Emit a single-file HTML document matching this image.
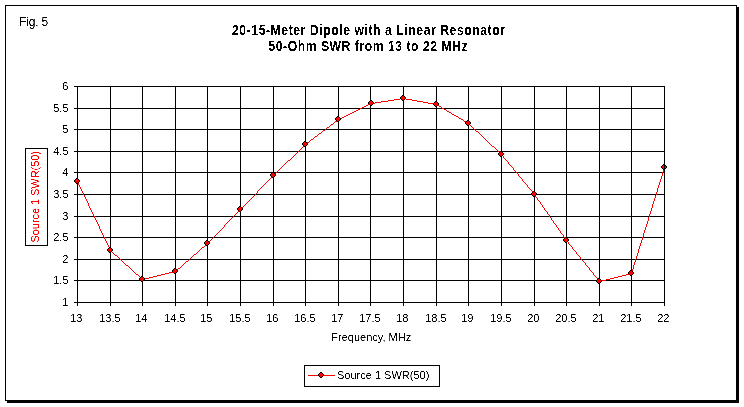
<!DOCTYPE html>
<html><head><meta charset="utf-8"><style>
html,body{margin:0;padding:0;background:#fff;}
body{width:744px;height:407px;overflow:hidden;position:relative;}
svg{position:absolute;left:0;top:0;}
text{font-family:"Liberation Sans",sans-serif;}
svg{will-change:transform;}
</style></head><body>
<svg width="744" height="407" viewBox="0 0 744 407">
<defs><filter id="th" x="0" y="0" width="100%" height="100%" filterUnits="userSpaceOnUse"><feComponentTransfer><feFuncA type="table" tableValues="0 0 1 1"/></feComponentTransfer></filter><filter id="tb" x="0" y="0" width="100%" height="100%" filterUnits="userSpaceOnUse"><feComponentTransfer><feFuncA type="discrete" tableValues="0 1"/></feComponentTransfer></filter></defs>

<rect x="7" y="401" width="732" height="2" fill="#000"/>
<rect x="737" y="7" width="2" height="396" fill="#000"/>
<rect x="5.5" y="5.5" width="731" height="395" fill="#fff" stroke="#000" stroke-width="1"/>
<g stroke="#000" stroke-width="1" shape-rendering="crispEdges">
<line x1="77.5" y1="86" x2="77.5" y2="306"/>
<line x1="110.5" y1="86" x2="110.5" y2="306"/>
<line x1="142.5" y1="86" x2="142.5" y2="306"/>
<line x1="175.5" y1="86" x2="175.5" y2="306"/>
<line x1="207.5" y1="86" x2="207.5" y2="306"/>
<line x1="240.5" y1="86" x2="240.5" y2="306"/>
<line x1="273.5" y1="86" x2="273.5" y2="306"/>
<line x1="305.5" y1="86" x2="305.5" y2="306"/>
<line x1="338.5" y1="86" x2="338.5" y2="306"/>
<line x1="370.5" y1="86" x2="370.5" y2="306"/>
<line x1="403.5" y1="86" x2="403.5" y2="306"/>
<line x1="436.5" y1="86" x2="436.5" y2="306"/>
<line x1="468.5" y1="86" x2="468.5" y2="306"/>
<line x1="501.5" y1="86" x2="501.5" y2="306"/>
<line x1="534.5" y1="86" x2="534.5" y2="306"/>
<line x1="566.5" y1="86" x2="566.5" y2="306"/>
<line x1="599.5" y1="86" x2="599.5" y2="306"/>
<line x1="631.5" y1="86" x2="631.5" y2="306"/>
<line x1="664.5" y1="86" x2="664.5" y2="306"/>
<line x1="74" y1="86.5" x2="665" y2="86.5"/>
<line x1="74" y1="108.5" x2="665" y2="108.5"/>
<line x1="74" y1="129.5" x2="665" y2="129.5"/>
<line x1="74" y1="151.5" x2="665" y2="151.5"/>
<line x1="74" y1="172.5" x2="665" y2="172.5"/>
<line x1="74" y1="194.5" x2="665" y2="194.5"/>
<line x1="74" y1="216.5" x2="665" y2="216.5"/>
<line x1="74" y1="237.5" x2="665" y2="237.5"/>
<line x1="74" y1="259.5" x2="665" y2="259.5"/>
<line x1="74" y1="280.5" x2="665" y2="280.5"/>
<line x1="74" y1="302.5" x2="665" y2="302.5"/>
</g>
<path d="M400 98h6v1h-6zM394 99h6v1h-6zM406 99h6v1h-6zM388 100h6v1h-6zM412 100h5v1h-5zM381 101h7v1h-7zM417 101h6v1h-6zM375 102h6v1h-6zM423 102h5v1h-5zM370 103h5v1h-5zM428 103h6v1h-6zM368 104h2v1h-2zM434 104h3v1h-3zM366 105h2v1h-2zM437 105h2v1h-2zM364 106h2v1h-2zM439 106h2v1h-2zM362 107h2v1h-2zM441 107h1v1h-1zM360 108h2v1h-2zM442 108h2v1h-2zM358 109h2v1h-2zM444 109h2v1h-2zM356 110h2v1h-2zM446 110h1v1h-1zM354 111h2v1h-2zM447 111h2v1h-2zM352 112h2v1h-2zM449 112h2v1h-2zM350 113h2v1h-2zM451 113h1v1h-1zM348 114h2v1h-2zM452 114h2v1h-2zM346 115h2v1h-2zM454 115h2v1h-2zM344 116h2v1h-2zM456 116h2v1h-2zM342 117h2v1h-2zM458 117h1v1h-1zM340 118h2v1h-2zM459 118h2v1h-2zM338 119h2v1h-2zM461 119h2v1h-2zM337 120h1v1h-1zM463 120h1v1h-1zM335 121h2v1h-2zM464 121h2v1h-2zM334 122h1v1h-1zM466 122h2v1h-2zM333 123h1v1h-1zM468 123h1v1h-1zM331 124h2v1h-2zM469 124h1v1h-1zM330 125h1v1h-1zM470 125h1v1h-1zM329 126h1v1h-1zM471 126h1v1h-1zM327 127h2v1h-2zM472 127h1v1h-1zM326 128h1v1h-1zM473 128h1v1h-1zM325 129h1v1h-1zM474 129h1v1h-1zM323 130h2v1h-2zM475 130h1v1h-1zM322 131h1v1h-1zM476 131h2v1h-2zM321 132h1v1h-1zM478 132h1v1h-1zM319 133h2v1h-2zM479 133h1v1h-1zM318 134h1v1h-1zM480 134h1v1h-1zM317 135h1v1h-1zM481 135h1v1h-1zM315 136h2v1h-2zM482 136h1v1h-1zM314 137h1v1h-1zM483 137h1v1h-1zM313 138h1v1h-1zM484 138h1v1h-1zM311 139h2v1h-2zM485 139h1v1h-1zM310 140h1v1h-1zM486 140h1v1h-1zM309 141h1v1h-1zM487 141h1v1h-1zM307 142h2v1h-2zM488 142h1v1h-1zM306 143h1v1h-1zM489 143h1v1h-1zM305 144h1v1h-1zM490 144h1v1h-1zM304 145h1v1h-1zM491 145h1v1h-1zM303 146h1v1h-1zM492 146h2v1h-2zM302 147h1v1h-1zM494 147h1v1h-1zM301 148h1v1h-1zM495 148h1v1h-1zM300 149h1v1h-1zM496 149h1v1h-1zM299 150h1v1h-1zM497 150h1v1h-1zM298 151h1v1h-1zM498 151h1v1h-1zM297 152h1v1h-1zM499 152h1v1h-1zM296 153h1v1h-1zM500 153h1v1h-1zM295 154h1v1h-1zM501 154h1v1h-1zM294 155h1v1h-1zM502 155h1v1h-1zM293 156h1v1h-1zM503 156h1v1h-1zM292 157h1v1h-1zM503 157h1v1h-1zM291 158h1v1h-1zM504 158h1v1h-1zM290 159h1v1h-1zM505 159h1v1h-1zM288 160h2v1h-2zM506 160h1v1h-1zM287 161h1v1h-1zM507 161h1v1h-1zM286 162h1v1h-1zM508 162h1v1h-1zM285 163h1v1h-1zM508 163h1v1h-1zM284 164h1v1h-1zM509 164h1v1h-1zM283 165h1v1h-1zM510 165h1v1h-1zM282 166h1v1h-1zM511 166h1v1h-1zM281 167h1v1h-1zM512 167h1v1h-1zM664 167h1v1h-1zM280 168h1v1h-1zM513 168h1v1h-1zM664 168h1v1h-1zM279 169h1v1h-1zM513 169h1v1h-1zM663 169h1v1h-1zM278 170h1v1h-1zM514 170h1v1h-1zM663 170h1v1h-1zM277 171h1v1h-1zM515 171h1v1h-1zM663 171h1v1h-1zM276 172h1v1h-1zM516 172h1v1h-1zM662 172h1v1h-1zM275 173h1v1h-1zM517 173h1v1h-1zM662 173h1v1h-1zM274 174h1v1h-1zM518 174h1v1h-1zM662 174h1v1h-1zM273 175h1v1h-1zM518 175h1v1h-1zM662 175h1v1h-1zM272 176h1v1h-1zM519 176h1v1h-1zM661 176h1v1h-1zM271 177h1v1h-1zM520 177h1v1h-1zM661 177h1v1h-1zM270 178h1v1h-1zM521 178h1v1h-1zM661 178h1v1h-1zM269 179h1v1h-1zM522 179h1v1h-1zM660 179h1v1h-1zM268 180h1v1h-1zM522 180h1v1h-1zM660 180h1v1h-1zM77 181h1v1h-1zM267 181h1v1h-1zM523 181h1v1h-1zM660 181h1v1h-1zM77 182h1v1h-1zM266 182h1v1h-1zM524 182h1v1h-1zM659 182h1v1h-1zM78 183h1v1h-1zM265 183h1v1h-1zM525 183h1v1h-1zM659 183h1v1h-1zM78 184h1v1h-1zM264 184h1v1h-1zM526 184h1v1h-1zM659 184h1v1h-1zM79 185h1v1h-1zM263 185h1v1h-1zM527 185h1v1h-1zM658 185h1v1h-1zM79 186h1v1h-1zM262 186h1v1h-1zM527 186h1v1h-1zM658 186h1v1h-1zM80 187h1v1h-1zM261 187h1v1h-1zM528 187h1v1h-1zM658 187h1v1h-1zM80 188h1v1h-1zM260 188h1v1h-1zM529 188h1v1h-1zM657 188h1v1h-1zM81 189h1v1h-1zM259 189h1v1h-1zM530 189h1v1h-1zM657 189h1v1h-1zM81 190h1v1h-1zM258 190h1v1h-1zM531 190h1v1h-1zM657 190h1v1h-1zM82 191h1v1h-1zM257 191h1v1h-1zM532 191h1v1h-1zM657 191h1v1h-1zM82 192h1v1h-1zM257 192h1v1h-1zM532 192h1v1h-1zM656 192h1v1h-1zM83 193h1v1h-1zM256 193h1v1h-1zM533 193h1v1h-1zM656 193h1v1h-1zM83 194h1v1h-1zM255 194h1v1h-1zM534 194h1v1h-1zM656 194h1v1h-1zM84 195h1v1h-1zM254 195h1v1h-1zM535 195h1v1h-1zM655 195h1v1h-1zM84 196h1v1h-1zM253 196h1v1h-1zM535 196h1v1h-1zM655 196h1v1h-1zM85 197h1v1h-1zM252 197h1v1h-1zM536 197h1v1h-1zM655 197h1v1h-1zM85 198h1v1h-1zM251 198h1v1h-1zM537 198h1v1h-1zM654 198h1v1h-1zM86 199h1v1h-1zM250 199h1v1h-1zM537 199h1v1h-1zM654 199h1v1h-1zM86 200h1v1h-1zM249 200h1v1h-1zM538 200h1v1h-1zM654 200h1v1h-1zM87 201h1v1h-1zM248 201h1v1h-1zM539 201h1v1h-1zM653 201h1v1h-1zM87 202h1v1h-1zM247 202h1v1h-1zM540 202h1v1h-1zM653 202h1v1h-1zM88 203h1v1h-1zM246 203h1v1h-1zM540 203h1v1h-1zM653 203h1v1h-1zM88 204h1v1h-1zM245 204h1v1h-1zM541 204h1v1h-1zM652 204h1v1h-1zM88 205h1v1h-1zM244 205h1v1h-1zM542 205h1v1h-1zM652 205h1v1h-1zM89 206h1v1h-1zM243 206h1v1h-1zM542 206h1v1h-1zM652 206h1v1h-1zM89 207h1v1h-1zM242 207h1v1h-1zM543 207h1v1h-1zM652 207h1v1h-1zM90 208h1v1h-1zM241 208h1v1h-1zM544 208h1v1h-1zM651 208h1v1h-1zM90 209h1v1h-1zM240 209h1v1h-1zM544 209h1v1h-1zM651 209h1v1h-1zM91 210h1v1h-1zM239 210h1v1h-1zM545 210h1v1h-1zM651 210h1v1h-1zM91 211h1v1h-1zM238 211h1v1h-1zM546 211h1v1h-1zM650 211h1v1h-1zM92 212h1v1h-1zM237 212h1v1h-1zM547 212h1v1h-1zM650 212h1v1h-1zM92 213h1v1h-1zM236 213h1v1h-1zM547 213h1v1h-1zM650 213h1v1h-1zM93 214h1v1h-1zM235 214h1v1h-1zM548 214h1v1h-1zM649 214h1v1h-1zM93 215h1v1h-1zM234 215h1v1h-1zM549 215h1v1h-1zM649 215h1v1h-1zM94 216h1v1h-1zM233 216h1v1h-1zM549 216h1v1h-1zM649 216h1v1h-1zM94 217h1v1h-1zM232 217h1v1h-1zM550 217h1v1h-1zM648 217h1v1h-1zM95 218h1v1h-1zM231 218h1v1h-1zM551 218h1v1h-1zM648 218h1v1h-1zM95 219h1v1h-1zM230 219h1v1h-1zM551 219h1v1h-1zM648 219h1v1h-1zM96 220h1v1h-1zM229 220h1v1h-1zM552 220h1v1h-1zM648 220h1v1h-1zM96 221h1v1h-1zM228 221h1v1h-1zM553 221h1v1h-1zM647 221h1v1h-1zM97 222h1v1h-1zM227 222h1v1h-1zM553 222h1v1h-1zM647 222h1v1h-1zM97 223h1v1h-1zM226 223h1v1h-1zM554 223h1v1h-1zM647 223h1v1h-1zM98 224h1v1h-1zM225 224h1v1h-1zM555 224h1v1h-1zM646 224h1v1h-1zM98 225h1v1h-1zM224 225h1v1h-1zM556 225h1v1h-1zM646 225h1v1h-1zM99 226h1v1h-1zM224 226h1v1h-1zM556 226h1v1h-1zM646 226h1v1h-1zM99 227h1v1h-1zM223 227h1v1h-1zM557 227h1v1h-1zM645 227h1v1h-1zM99 228h1v1h-1zM222 228h1v1h-1zM558 228h1v1h-1zM645 228h1v1h-1zM100 229h1v1h-1zM221 229h1v1h-1zM558 229h1v1h-1zM645 229h1v1h-1zM100 230h1v1h-1zM220 230h1v1h-1zM559 230h1v1h-1zM644 230h1v1h-1zM101 231h1v1h-1zM219 231h1v1h-1zM560 231h1v1h-1zM644 231h1v1h-1zM101 232h1v1h-1zM218 232h1v1h-1zM560 232h1v1h-1zM644 232h1v1h-1zM102 233h1v1h-1zM217 233h1v1h-1zM561 233h1v1h-1zM643 233h1v1h-1zM102 234h1v1h-1zM216 234h1v1h-1zM562 234h1v1h-1zM643 234h1v1h-1zM103 235h1v1h-1zM215 235h1v1h-1zM563 235h1v1h-1zM643 235h1v1h-1zM103 236h1v1h-1zM214 236h1v1h-1zM563 236h1v1h-1zM643 236h1v1h-1zM104 237h1v1h-1zM213 237h1v1h-1zM564 237h1v1h-1zM642 237h1v1h-1zM104 238h1v1h-1zM212 238h1v1h-1zM565 238h1v1h-1zM642 238h1v1h-1zM105 239h1v1h-1zM211 239h1v1h-1zM565 239h1v1h-1zM642 239h1v1h-1zM105 240h1v1h-1zM210 240h1v1h-1zM566 240h1v1h-1zM641 240h1v1h-1zM106 241h1v1h-1zM209 241h1v1h-1zM567 241h1v1h-1zM641 241h1v1h-1zM106 242h1v1h-1zM208 242h1v1h-1zM568 242h1v1h-1zM641 242h1v1h-1zM107 243h1v1h-1zM207 243h1v1h-1zM568 243h1v1h-1zM640 243h1v1h-1zM107 244h1v1h-1zM206 244h1v1h-1zM569 244h1v1h-1zM640 244h1v1h-1zM108 245h1v1h-1zM205 245h1v1h-1zM570 245h1v1h-1zM640 245h1v1h-1zM108 246h1v1h-1zM204 246h1v1h-1zM571 246h1v1h-1zM639 246h1v1h-1zM109 247h1v1h-1zM202 247h2v1h-2zM572 247h1v1h-1zM639 247h1v1h-1zM109 248h1v1h-1zM201 248h1v1h-1zM572 248h1v1h-1zM639 248h1v1h-1zM110 249h1v1h-1zM200 249h1v1h-1zM573 249h1v1h-1zM638 249h1v1h-1zM110 250h1v1h-1zM199 250h1v1h-1zM574 250h1v1h-1zM638 250h1v1h-1zM111 251h1v1h-1zM198 251h1v1h-1zM575 251h1v1h-1zM638 251h1v1h-1zM112 252h1v1h-1zM197 252h1v1h-1zM576 252h1v1h-1zM638 252h1v1h-1zM113 253h1v1h-1zM196 253h1v1h-1zM576 253h1v1h-1zM637 253h1v1h-1zM114 254h1v1h-1zM194 254h2v1h-2zM577 254h1v1h-1zM637 254h1v1h-1zM115 255h2v1h-2zM193 255h1v1h-1zM578 255h1v1h-1zM637 255h1v1h-1zM117 256h1v1h-1zM192 256h1v1h-1zM579 256h1v1h-1zM636 256h1v1h-1zM118 257h1v1h-1zM191 257h1v1h-1zM580 257h1v1h-1zM636 257h1v1h-1zM119 258h1v1h-1zM190 258h1v1h-1zM580 258h1v1h-1zM636 258h1v1h-1zM120 259h1v1h-1zM189 259h1v1h-1zM581 259h1v1h-1zM635 259h1v1h-1zM121 260h1v1h-1zM188 260h1v1h-1zM582 260h1v1h-1zM635 260h1v1h-1zM122 261h1v1h-1zM186 261h2v1h-2zM583 261h1v1h-1zM635 261h1v1h-1zM123 262h1v1h-1zM185 262h1v1h-1zM584 262h1v1h-1zM634 262h1v1h-1zM124 263h1v1h-1zM184 263h1v1h-1zM585 263h1v1h-1zM634 263h1v1h-1zM125 264h1v1h-1zM183 264h1v1h-1zM585 264h1v1h-1zM634 264h1v1h-1zM126 265h2v1h-2zM182 265h1v1h-1zM586 265h1v1h-1zM633 265h1v1h-1zM128 266h1v1h-1zM181 266h1v1h-1zM587 266h1v1h-1zM633 266h1v1h-1zM129 267h1v1h-1zM180 267h1v1h-1zM588 267h1v1h-1zM633 267h1v1h-1zM130 268h1v1h-1zM178 268h2v1h-2zM589 268h1v1h-1zM633 268h1v1h-1zM131 269h1v1h-1zM177 269h1v1h-1zM589 269h1v1h-1zM632 269h1v1h-1zM132 270h1v1h-1zM176 270h1v1h-1zM590 270h1v1h-1zM632 270h1v1h-1zM133 271h1v1h-1zM173 271h3v1h-3zM591 271h1v1h-1zM632 271h1v1h-1zM134 272h1v1h-1zM169 272h4v1h-4zM592 272h1v1h-1zM631 272h1v1h-1zM135 273h1v1h-1zM165 273h4v1h-4zM593 273h1v1h-1zM630 273h2v1h-2zM136 274h2v1h-2zM161 274h4v1h-4zM593 274h1v1h-1zM626 274h4v1h-4zM138 275h1v1h-1zM157 275h4v1h-4zM594 275h1v1h-1zM622 275h4v1h-4zM139 276h1v1h-1zM153 276h4v1h-4zM595 276h1v1h-1zM618 276h4v1h-4zM140 277h1v1h-1zM149 277h4v1h-4zM596 277h1v1h-1zM614 277h4v1h-4zM141 278h1v1h-1zM145 278h4v1h-4zM597 278h1v1h-1zM610 278h4v1h-4zM142 279h3v1h-3zM597 279h1v1h-1zM606 279h4v1h-4zM598 280h1v1h-1zM602 280h4v1h-4zM599 281h3v1h-3z" fill="#f00" shape-rendering="crispEdges"/>
<g shape-rendering="crispEdges">
<rect x="76" y="178" width="2" height="1" fill="#000"/><rect x="75" y="179" width="1" height="1" fill="#000"/><rect x="78" y="179" width="1" height="1" fill="#000"/><rect x="74" y="180" width="1" height="2" fill="#000"/><rect x="79" y="180" width="1" height="2" fill="#000"/><rect x="75" y="182" width="1" height="1" fill="#000"/><rect x="78" y="182" width="1" height="1" fill="#000"/><rect x="76" y="183" width="2" height="1" fill="#000"/><rect x="76" y="179" width="2" height="1" fill="#f00"/><rect x="75" y="180" width="4" height="2" fill="#f00"/><rect x="76" y="182" width="2" height="1" fill="#f00"/>
<rect x="109" y="247" width="2" height="1" fill="#000"/><rect x="108" y="248" width="1" height="1" fill="#000"/><rect x="111" y="248" width="1" height="1" fill="#000"/><rect x="107" y="249" width="1" height="2" fill="#000"/><rect x="112" y="249" width="1" height="2" fill="#000"/><rect x="108" y="251" width="1" height="1" fill="#000"/><rect x="111" y="251" width="1" height="1" fill="#000"/><rect x="109" y="252" width="2" height="1" fill="#000"/><rect x="109" y="248" width="2" height="1" fill="#f00"/><rect x="108" y="249" width="4" height="2" fill="#f00"/><rect x="109" y="251" width="2" height="1" fill="#f00"/>
<rect x="141" y="276" width="2" height="1" fill="#000"/><rect x="140" y="277" width="1" height="1" fill="#000"/><rect x="143" y="277" width="1" height="1" fill="#000"/><rect x="139" y="278" width="1" height="2" fill="#000"/><rect x="144" y="278" width="1" height="2" fill="#000"/><rect x="140" y="280" width="1" height="1" fill="#000"/><rect x="143" y="280" width="1" height="1" fill="#000"/><rect x="141" y="281" width="2" height="1" fill="#000"/><rect x="141" y="277" width="2" height="1" fill="#f00"/><rect x="140" y="278" width="4" height="2" fill="#f00"/><rect x="141" y="280" width="2" height="1" fill="#f00"/>
<rect x="174" y="268" width="2" height="1" fill="#000"/><rect x="173" y="269" width="1" height="1" fill="#000"/><rect x="176" y="269" width="1" height="1" fill="#000"/><rect x="172" y="270" width="1" height="2" fill="#000"/><rect x="177" y="270" width="1" height="2" fill="#000"/><rect x="173" y="272" width="1" height="1" fill="#000"/><rect x="176" y="272" width="1" height="1" fill="#000"/><rect x="174" y="273" width="2" height="1" fill="#000"/><rect x="174" y="269" width="2" height="1" fill="#f00"/><rect x="173" y="270" width="4" height="2" fill="#f00"/><rect x="174" y="272" width="2" height="1" fill="#f00"/>
<rect x="206" y="240" width="2" height="1" fill="#000"/><rect x="205" y="241" width="1" height="1" fill="#000"/><rect x="208" y="241" width="1" height="1" fill="#000"/><rect x="204" y="242" width="1" height="2" fill="#000"/><rect x="209" y="242" width="1" height="2" fill="#000"/><rect x="205" y="244" width="1" height="1" fill="#000"/><rect x="208" y="244" width="1" height="1" fill="#000"/><rect x="206" y="245" width="2" height="1" fill="#000"/><rect x="206" y="241" width="2" height="1" fill="#f00"/><rect x="205" y="242" width="4" height="2" fill="#f00"/><rect x="206" y="244" width="2" height="1" fill="#f00"/>
<rect x="239" y="206" width="2" height="1" fill="#000"/><rect x="238" y="207" width="1" height="1" fill="#000"/><rect x="241" y="207" width="1" height="1" fill="#000"/><rect x="237" y="208" width="1" height="2" fill="#000"/><rect x="242" y="208" width="1" height="2" fill="#000"/><rect x="238" y="210" width="1" height="1" fill="#000"/><rect x="241" y="210" width="1" height="1" fill="#000"/><rect x="239" y="211" width="2" height="1" fill="#000"/><rect x="239" y="207" width="2" height="1" fill="#f00"/><rect x="238" y="208" width="4" height="2" fill="#f00"/><rect x="239" y="210" width="2" height="1" fill="#f00"/>
<rect x="272" y="172" width="2" height="1" fill="#000"/><rect x="271" y="173" width="1" height="1" fill="#000"/><rect x="274" y="173" width="1" height="1" fill="#000"/><rect x="270" y="174" width="1" height="2" fill="#000"/><rect x="275" y="174" width="1" height="2" fill="#000"/><rect x="271" y="176" width="1" height="1" fill="#000"/><rect x="274" y="176" width="1" height="1" fill="#000"/><rect x="272" y="177" width="2" height="1" fill="#000"/><rect x="272" y="173" width="2" height="1" fill="#f00"/><rect x="271" y="174" width="4" height="2" fill="#f00"/><rect x="272" y="176" width="2" height="1" fill="#f00"/>
<rect x="304" y="141" width="2" height="1" fill="#000"/><rect x="303" y="142" width="1" height="1" fill="#000"/><rect x="306" y="142" width="1" height="1" fill="#000"/><rect x="302" y="143" width="1" height="2" fill="#000"/><rect x="307" y="143" width="1" height="2" fill="#000"/><rect x="303" y="145" width="1" height="1" fill="#000"/><rect x="306" y="145" width="1" height="1" fill="#000"/><rect x="304" y="146" width="2" height="1" fill="#000"/><rect x="304" y="142" width="2" height="1" fill="#f00"/><rect x="303" y="143" width="4" height="2" fill="#f00"/><rect x="304" y="145" width="2" height="1" fill="#f00"/>
<rect x="337" y="116" width="2" height="1" fill="#000"/><rect x="336" y="117" width="1" height="1" fill="#000"/><rect x="339" y="117" width="1" height="1" fill="#000"/><rect x="335" y="118" width="1" height="2" fill="#000"/><rect x="340" y="118" width="1" height="2" fill="#000"/><rect x="336" y="120" width="1" height="1" fill="#000"/><rect x="339" y="120" width="1" height="1" fill="#000"/><rect x="337" y="121" width="2" height="1" fill="#000"/><rect x="337" y="117" width="2" height="1" fill="#f00"/><rect x="336" y="118" width="4" height="2" fill="#f00"/><rect x="337" y="120" width="2" height="1" fill="#f00"/>
<rect x="370" y="100" width="2" height="1" fill="#000"/><rect x="369" y="101" width="1" height="1" fill="#000"/><rect x="372" y="101" width="1" height="1" fill="#000"/><rect x="368" y="102" width="1" height="2" fill="#000"/><rect x="373" y="102" width="1" height="2" fill="#000"/><rect x="369" y="104" width="1" height="1" fill="#000"/><rect x="372" y="104" width="1" height="1" fill="#000"/><rect x="370" y="105" width="2" height="1" fill="#000"/><rect x="370" y="101" width="2" height="1" fill="#f00"/><rect x="369" y="102" width="4" height="2" fill="#f00"/><rect x="370" y="104" width="2" height="1" fill="#f00"/>
<rect x="402" y="95" width="2" height="1" fill="#000"/><rect x="401" y="96" width="1" height="1" fill="#000"/><rect x="404" y="96" width="1" height="1" fill="#000"/><rect x="400" y="97" width="1" height="2" fill="#000"/><rect x="405" y="97" width="1" height="2" fill="#000"/><rect x="401" y="99" width="1" height="1" fill="#000"/><rect x="404" y="99" width="1" height="1" fill="#000"/><rect x="402" y="100" width="2" height="1" fill="#000"/><rect x="402" y="96" width="2" height="1" fill="#f00"/><rect x="401" y="97" width="4" height="2" fill="#f00"/><rect x="402" y="99" width="2" height="1" fill="#f00"/>
<rect x="435" y="101" width="2" height="1" fill="#000"/><rect x="434" y="102" width="1" height="1" fill="#000"/><rect x="437" y="102" width="1" height="1" fill="#000"/><rect x="433" y="103" width="1" height="2" fill="#000"/><rect x="438" y="103" width="1" height="2" fill="#000"/><rect x="434" y="105" width="1" height="1" fill="#000"/><rect x="437" y="105" width="1" height="1" fill="#000"/><rect x="435" y="106" width="2" height="1" fill="#000"/><rect x="435" y="102" width="2" height="1" fill="#f00"/><rect x="434" y="103" width="4" height="2" fill="#f00"/><rect x="435" y="105" width="2" height="1" fill="#f00"/>
<rect x="467" y="120" width="2" height="1" fill="#000"/><rect x="466" y="121" width="1" height="1" fill="#000"/><rect x="469" y="121" width="1" height="1" fill="#000"/><rect x="465" y="122" width="1" height="2" fill="#000"/><rect x="470" y="122" width="1" height="2" fill="#000"/><rect x="466" y="124" width="1" height="1" fill="#000"/><rect x="469" y="124" width="1" height="1" fill="#000"/><rect x="467" y="125" width="2" height="1" fill="#000"/><rect x="467" y="121" width="2" height="1" fill="#f00"/><rect x="466" y="122" width="4" height="2" fill="#f00"/><rect x="467" y="124" width="2" height="1" fill="#f00"/>
<rect x="500" y="151" width="2" height="1" fill="#000"/><rect x="499" y="152" width="1" height="1" fill="#000"/><rect x="502" y="152" width="1" height="1" fill="#000"/><rect x="498" y="153" width="1" height="2" fill="#000"/><rect x="503" y="153" width="1" height="2" fill="#000"/><rect x="499" y="155" width="1" height="1" fill="#000"/><rect x="502" y="155" width="1" height="1" fill="#000"/><rect x="500" y="156" width="2" height="1" fill="#000"/><rect x="500" y="152" width="2" height="1" fill="#f00"/><rect x="499" y="153" width="4" height="2" fill="#f00"/><rect x="500" y="155" width="2" height="1" fill="#f00"/>
<rect x="533" y="191" width="2" height="1" fill="#000"/><rect x="532" y="192" width="1" height="1" fill="#000"/><rect x="535" y="192" width="1" height="1" fill="#000"/><rect x="531" y="193" width="1" height="2" fill="#000"/><rect x="536" y="193" width="1" height="2" fill="#000"/><rect x="532" y="195" width="1" height="1" fill="#000"/><rect x="535" y="195" width="1" height="1" fill="#000"/><rect x="533" y="196" width="2" height="1" fill="#000"/><rect x="533" y="192" width="2" height="1" fill="#f00"/><rect x="532" y="193" width="4" height="2" fill="#f00"/><rect x="533" y="195" width="2" height="1" fill="#f00"/>
<rect x="565" y="237" width="2" height="1" fill="#000"/><rect x="564" y="238" width="1" height="1" fill="#000"/><rect x="567" y="238" width="1" height="1" fill="#000"/><rect x="563" y="239" width="1" height="2" fill="#000"/><rect x="568" y="239" width="1" height="2" fill="#000"/><rect x="564" y="241" width="1" height="1" fill="#000"/><rect x="567" y="241" width="1" height="1" fill="#000"/><rect x="565" y="242" width="2" height="1" fill="#000"/><rect x="565" y="238" width="2" height="1" fill="#f00"/><rect x="564" y="239" width="4" height="2" fill="#f00"/><rect x="565" y="241" width="2" height="1" fill="#f00"/>
<rect x="598" y="278" width="2" height="1" fill="#000"/><rect x="597" y="279" width="1" height="1" fill="#000"/><rect x="600" y="279" width="1" height="1" fill="#000"/><rect x="596" y="280" width="1" height="2" fill="#000"/><rect x="601" y="280" width="1" height="2" fill="#000"/><rect x="597" y="282" width="1" height="1" fill="#000"/><rect x="600" y="282" width="1" height="1" fill="#000"/><rect x="598" y="283" width="2" height="1" fill="#000"/><rect x="598" y="279" width="2" height="1" fill="#f00"/><rect x="597" y="280" width="4" height="2" fill="#f00"/><rect x="598" y="282" width="2" height="1" fill="#f00"/>
<rect x="630" y="270" width="2" height="1" fill="#000"/><rect x="629" y="271" width="1" height="1" fill="#000"/><rect x="632" y="271" width="1" height="1" fill="#000"/><rect x="628" y="272" width="1" height="2" fill="#000"/><rect x="633" y="272" width="1" height="2" fill="#000"/><rect x="629" y="274" width="1" height="1" fill="#000"/><rect x="632" y="274" width="1" height="1" fill="#000"/><rect x="630" y="275" width="2" height="1" fill="#000"/><rect x="630" y="271" width="2" height="1" fill="#f00"/><rect x="629" y="272" width="4" height="2" fill="#f00"/><rect x="630" y="274" width="2" height="1" fill="#f00"/>
<rect x="663" y="164" width="2" height="1" fill="#000"/><rect x="662" y="165" width="1" height="1" fill="#000"/><rect x="665" y="165" width="1" height="1" fill="#000"/><rect x="661" y="166" width="1" height="2" fill="#000"/><rect x="666" y="166" width="1" height="2" fill="#000"/><rect x="662" y="168" width="1" height="1" fill="#000"/><rect x="665" y="168" width="1" height="1" fill="#000"/><rect x="663" y="169" width="2" height="1" fill="#000"/><rect x="663" y="165" width="2" height="1" fill="#f00"/><rect x="662" y="166" width="4" height="2" fill="#f00"/><rect x="663" y="168" width="2" height="1" fill="#f00"/>
<rect x="664" y="86" width="1" height="220" fill="#000"/>
</g>
<g font-size="11" fill="#000" filter="url(#th)">
<text x="62.25" y="90">6</text>
<text x="53.25" y="112">5.5</text>
<text x="62.25" y="133">5</text>
<text x="53.25" y="155">4.5</text>
<text x="62.25" y="176">4</text>
<text x="53.25" y="198">3.5</text>
<text x="62.25" y="220">3</text>
<text x="53.25" y="241">2.5</text>
<text x="62.25" y="263">2</text>
<text x="53.25" y="284">1.5</text>
<text x="62.25" y="306">1</text>
<text x="70.25" y="322">13</text>
<text x="99.25" y="322">13.5</text>
<text x="135.25" y="322">14</text>
<text x="164.25" y="322">14.5</text>
<text x="200.25" y="322">15</text>
<text x="229.25" y="322">15.5</text>
<text x="266.25" y="322">16</text>
<text x="294.25" y="322">16.5</text>
<text x="331.25" y="322">17</text>
<text x="359.25" y="322">17.5</text>
<text x="396.25" y="322">18</text>
<text x="425.25" y="322">18.5</text>
<text x="461.25" y="322">19</text>
<text x="490.25" y="322">19.5</text>
<text x="527.25" y="322">20</text>
<text x="555.25" y="322">20.5</text>
<text x="592.25" y="322">21</text>
<text x="620.25" y="322">21.5</text>
<text x="657.25" y="322">22</text>
<text x="371.25" y="341" text-anchor="middle">Frequency, MHz</text>
<text x="19.1" y="26" font-size="12" textLength="29" lengthAdjust="spacing">Fig. 5</text>
</g>
<g font-size="14" font-weight="bold" fill="#000" filter="url(#tb)">
<text transform="translate(232,35) scale(0.87,1)" x="0" y="0" textLength="313.79" lengthAdjust="spacing">20-15-Meter Dipole with a Linear Resonator</text>
<text transform="translate(268.5,51) scale(0.87,1)" x="0" y="0" textLength="228.74" lengthAdjust="spacing">50-Ohm SWR from 13 to 22 MHz</text>
</g>
<rect x="25.5" y="148.5" width="22" height="97" fill="#fff" stroke="#000" stroke-width="1"/>
<g filter="url(#th)"><text transform="translate(39,242.5) rotate(-90)" font-size="11" fill="#f00" textLength="91.5" lengthAdjust="spacing">Source 1 SWR(50)</text></g>
<rect x="304.5" y="365.5" width="135" height="21" fill="#fff" stroke="#000" stroke-width="1"/>
<line x1="308" y1="375.5" x2="335" y2="375.5" stroke="#f00" stroke-width="1"/>
<g shape-rendering="crispEdges"><rect x="320" y="372" width="2" height="1" fill="#000"/><rect x="319" y="373" width="1" height="1" fill="#000"/><rect x="322" y="373" width="1" height="1" fill="#000"/><rect x="318" y="374" width="1" height="2" fill="#000"/><rect x="323" y="374" width="1" height="2" fill="#000"/><rect x="319" y="376" width="1" height="1" fill="#000"/><rect x="322" y="376" width="1" height="1" fill="#000"/><rect x="320" y="377" width="2" height="1" fill="#000"/><rect x="320" y="373" width="2" height="1" fill="#f00"/><rect x="319" y="374" width="4" height="2" fill="#f00"/><rect x="320" y="376" width="2" height="1" fill="#f00"/></g>
<g filter="url(#th)"><text x="337" y="379" font-size="11" fill="#000">Source 1 SWR(50)</text></g>
</svg>
</body></html>
